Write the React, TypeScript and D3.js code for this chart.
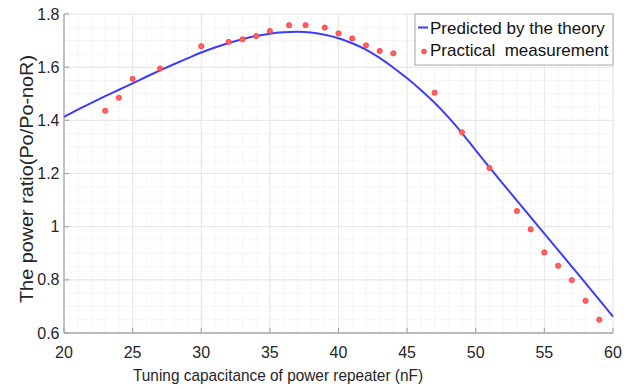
import React from "react";
import * as d3 from "d3";

const theoryX = [20,21,22,23,24,25,26,27,28,29,30,31,32,33,34,35,36,37,38,39,40,41,42,43,44,45,46,47,48,49,50,51,52,53,54,55,56,57,58,59,60];
const theoryY = [1.413,1.440,1.466,1.491,1.515,1.539,1.564,1.588,1.611,1.633,1.655,1.674,1.691,1.705,1.717,1.726,1.731,1.733,1.730,1.722,1.709,1.690,1.666,1.635,1.598,1.558,1.514,1.466,1.412,1.352,1.287,1.223,1.160,1.098,1.036,0.974,0.912,0.850,0.788,0.725,0.662];

const measX = [23,24,25,27,30,32,33,34,35,36.4,37.6,39,40,41,42,43,44,47,49,51,53,54,55,56,57,58,59];
const measY = [1.436,1.485,1.556,1.595,1.679,1.695,1.705,1.717,1.736,1.758,1.758,1.749,1.727,1.708,1.682,1.661,1.652,1.504,1.355,1.221,1.059,0.990,0.903,0.853,0.799,0.721,0.650];

const xTicks = [20,25,30,35,40,45,50,55,60];
const yTicks = [0.6,0.8,1,1.2,1.4,1.6,1.8];
const xLabel = "Tuning capacitance of power repeater (nF)";
const yLabel = "The power ratio(Po/Po-noR)";
const legendLabels = ["Predicted by the theory", "Practical  measurement"];

export default function App() {
  const x = d3.scaleLinear().domain([20, 60]).range([64, 613]);
  const y = d3.scaleLinear().domain([0.6, 1.8]).range([333, 14]);
  const minorX = d3.range(20, 61, 1);
  const minorY = d3.range(0.6, 1.8001, 0.05);
  const line = d3
    .line<number>()
    .x((_, i) => x(theoryX[i]))
    .y((d) => y(d))
    .curve(d3.curveCatmullRom);
  const font = "Liberation Sans, Arial, sans-serif";
  const axisColor = "#a8a8a8";
  const textColor = "#262626";
  return (
    <svg
      width={638}
      height={389}
      style={{ position: "absolute", left: 0, top: 0, background: "#fff" }}
      fontFamily={font}
    >
      <rect x={0} y={0} width={638} height={389} fill="#fff" />
      {/* minor grid */}
      {minorX.map((v) => (
        <line key={"mx" + v} x1={x(v)} x2={x(v)} y1={y(0.6)} y2={y(1.8)} stroke="#f3f3f3" strokeWidth={0.8} />
      ))}
      {minorY.map((v, i) => (
        <line key={"my" + i} x1={x(20)} x2={x(60)} y1={y(v)} y2={y(v)} stroke="#f3f3f3" strokeWidth={0.8} />
      ))}
      {/* major grid */}
      {xTicks.map((v) => (
        <line key={"gx" + v} x1={x(v)} x2={x(v)} y1={y(0.6)} y2={y(1.8)} stroke="#e6e6e6" strokeWidth={1} />
      ))}
      {yTicks.map((v) => (
        <line key={"gy" + v} x1={x(20)} x2={x(60)} y1={y(v)} y2={y(v)} stroke="#e6e6e6" strokeWidth={1} />
      ))}
      {/* axes */}
      <line x1={x(20)} x2={x(60)} y1={y(0.6)} y2={y(0.6)} stroke={axisColor} strokeWidth={1.3} />
      <line x1={x(20)} x2={x(20)} y1={y(0.6)} y2={y(1.8)} stroke={axisColor} strokeWidth={1.3} />
      {xTicks.map((v) => (
        <g key={"xt" + v}>
          <line x1={x(v)} x2={x(v)} y1={y(0.6)} y2={y(0.6) - 5} stroke={axisColor} strokeWidth={1.2} />
          <text x={x(v)} y={357.5} textAnchor="middle" fontSize={16} fill={textColor}>
            {v}
          </text>
        </g>
      ))}
      {yTicks.map((v) => (
        <g key={"yt" + v}>
          <line x1={x(20)} x2={x(20) + 5} y1={y(v)} y2={y(v)} stroke={axisColor} strokeWidth={1.2} />
          <text x={59.5} y={y(v) + 5.5} textAnchor="end" fontSize={16} fill={textColor}>
            {v}
          </text>
        </g>
      ))}
      <text
        x={278}
        y={381}
        textAnchor="middle"
        fontSize={17}
        textLength={290}
        lengthAdjust="spacingAndGlyphs"
        fill={textColor}
      >
        {xLabel}
      </text>
      <text
        transform={`translate(33,${179}) rotate(-90)`}
        textAnchor="middle"
        fontSize={19}
        textLength={248}
        lengthAdjust="spacingAndGlyphs"
        fill={textColor}
      >
        {yLabel}
      </text>
      {/* theory line */}
      <path d={line(theoryY) || ""} fill="none" stroke="#3c3cff" strokeWidth={2} />
      {/* measurement points */}
      {measY.map((v, i) => (
        <circle key={"p" + i} cx={x(measX[i])} cy={y(v)} r={2.6} fill="#ff6060" stroke="#ff3a3a" strokeWidth={0.8} />
      ))}
      {/* legend */}
      <rect x={415} y={14} width={198} height={51} fill="#fff" stroke="#a8a8a8" strokeWidth={1} />
      <line x1={418} x2={428} y1={27.5} y2={27.5} stroke="#3c3cff" strokeWidth={2} />
      <text x={430} y={33.5} fontSize={17} fill="#111" style={{ whiteSpace: "pre" }}>
        {legendLabels[0]}
      </text>
      <circle cx={424} cy={51.5} r={2.4} fill="#ff6060" stroke="#ff3a3a" strokeWidth={0.8} />
      <text x={430} y={56} fontSize={17} fill="#111" style={{ whiteSpace: "pre" }}>
        {legendLabels[1]}
      </text>
    </svg>
  );
}
